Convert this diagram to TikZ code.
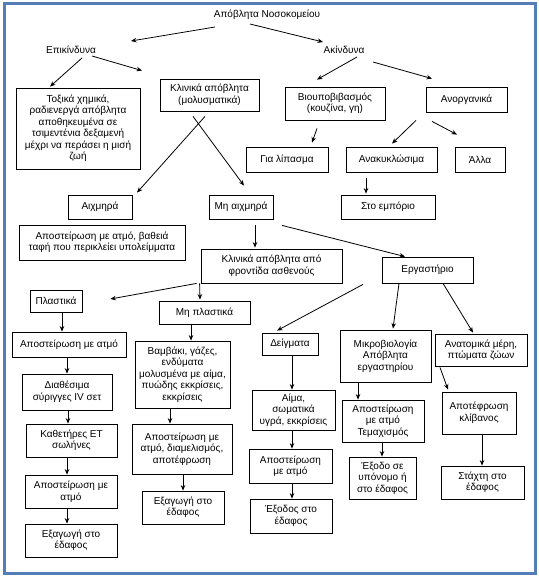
\documentclass[tikz,border=0pt]{standalone}
\usepackage{fontspec}
\setmainfont{Liberation Sans}
\usetikzlibrary{arrows.meta,calc}
\definecolor{frameblue}{RGB}{84,126,184}
\tikzset{
  bx/.style={draw=black, line width=0.8pt, inner sep=0pt, align=center,
    font=\fontsize{10}{11.5}\selectfont},
  lbl/.style={inner sep=1pt, font=\fontsize{10}{11.5}\selectfont},
  arr/.style={draw=black, line width=0.8pt, -{Stealth[length=5.5pt,width=4.5pt]}},
}
\newcommand{\bxat}[6]{\node[bx, minimum width=#4pt, minimum height=#5pt] (#1) at (#2,#3) {#6};}
\begin{document}
\begin{tikzpicture}[x=1pt,y=-1pt]
\useasboundingbox (0,0) rectangle (538,577);
\fill[white] (0,0) rectangle (538,577);
\draw[line width=3pt, frameblue] (4,3.5) rectangle (535,573.5);

% text labels
\node[lbl] (title) at (267,15) {Απόβλητα Νοσοκομείου};
\node[lbl] (epik) at (71,50) {Επικίνδυνα};
\node[lbl] (akin) at (344,50) {Ακίνδυνα};

% boxes
\bxat{tox}{78}{128.5}{124}{81}{Τοξικά χημικά,\\ραδιενεργά απόβλητα\\αποθηκευμένα σε\\τσιμεντένια δεξαμενή\\μέχρι να περάσει η μισή\\ζωή}
\bxat{klin}{209.5}{95}{99}{32}{Κλινικά απόβλητα\\(μολυσματικά)}
\bxat{bio}{335}{103.5}{100}{33}{Βιουποβιβασμός\\(κουζίνα, γη)}
\bxat{anorg}{466.5}{99.5}{81}{25}{Ανοργανικά}
\bxat{lipasma}{287}{159.5}{82}{25}{Για λίπασμα}
\bxat{anak}{391.5}{159.5}{91}{25}{Ανακυκλώσιμα}
\bxat{alla}{480}{159.5}{50}{25}{Άλλα}
\bxat{aixm}{100}{207}{64}{24}{Αιχμηρά}
\bxat{mhaixm}{241}{207}{64}{24}{Μη αιχμηρά}
\bxat{emporio}{388}{207}{94}{24}{Στο εμπόριο}
\bxat{apbath}{102}{242.5}{166}{35}{Αποστείρωση με ατμό, βαθειά\\ταφή που περικλείει υπολείμματα}
\bxat{fron}{271.5}{266}{141}{34}{Κλινικά απόβλητα από\\φροντίδα ασθενούς}
\bxat{erg}{427.5}{270}{91}{26}{Εργαστήριο}
\bxat{plast}{56}{301}{52}{22}{Πλαστικά}
\bxat{mhplast}{204.5}{312.5}{91}{23}{Μη πλαστικά}
\bxat{apone}{69}{344.5}{114}{25}{Αποστείρωση με ατμό}
\bxat{diath}{67}{392}{90}{36}{Διαθέσιμα\\σύριγγες IV σετ}
\bxat{kath}{71.5}{440.5}{91}{33}{Καθετήρες ΕΤ\\σωλήνες}
\bxat{aptwo}{71}{491.5}{92}{33}{Αποστείρωση με\\ατμό}
\bxat{exagone}{71}{540.5}{92}{33}{Εξαγωγή στο\\έδαφος}
\bxat{vamv}{182.5}{374.5}{95}{67}{Βαμβάκι, γάζες,\\ενδύματα\\μολυσμένα με αίμα,\\πυώδης εκκρίσεις,\\εκκρίσεις}
\bxat{apdiam}{182}{449}{100}{50}{Αποστείρωση με\\ατμό, διαμελισμός,\\αποτέφρωση}
\bxat{exagtwo}{183}{507.5}{82}{33}{Εξαγωγή στο\\έδαφος}
\bxat{deig}{290}{344}{56}{22}{Δείγματα}
\bxat{aima}{293.5}{410}{83}{40}{Αίμα,\\σωματικά\\υγρά, εκκρίσεις}
\bxat{apthree}{290.5}{466}{83}{34}{Αποστείρωση\\με ατμό}
\bxat{exodos}{291}{516}{82}{34}{Έξοδος στο\\έδαφος}
\bxat{mikro}{385.5}{356}{91}{52}{Μικροβιολογία\\Απόβλητα\\εργαστηρίου}
\bxat{aptem}{383}{421}{82}{42}{Αποστείρωση\\με ατμό\\Τεμαχισμός}
\bxat{exodo}{382.5}{478}{67}{42}{Έξοδο σε\\υπόνομο ή\\στο έδαφος}
\bxat{anat}{481}{350}{92}{32}{Ανατομικά μέρη,\\πτώματα ζώων}
\bxat{apotef}{479}{413}{74}{42}{Αποτέφρωση\\κλίβανος}
\bxat{staxti}{482.5}{482.5}{83}{33}{Στάχτη στο\\έδαφος}

% connectors
\draw[arr] ($(title.center)+(-52,12)$) -- ($(epik.center)+(60,-9)$);
\draw[arr] ($(title.center)+(-17,9)$) -- ($(akin.center)+(-21,-8)$);
\draw[arr] ($(epik.center)+(11,8)$) -- ($(tox.north)+(-28,-1)$);
\draw[arr] ($(epik.center)+(21,6)$) -- ($(klin.north)+(-67.5,-8)$);
\draw[arr] ($(akin.center)+(13,7)$) -- ($(bio.north)+(-18,-7)$);
\draw[arr] ($(akin.center)+(29,12)$) -- ($(anorg.north)+(-34.5,-8)$);
\draw[arr] ($(bio.south)+(-18,8)$) -- ($(lipasma.north)+(25,-4)$);
\draw[arr] ($(anorg.south)+(-50.5,8)$) -- ($(anak.north)+(0.5,-3)$);
\draw[arr] ($(anorg.south)+(-34.5,9)$) -- ($(alla.north)+(-23,-12)$);
\draw[arr] ($(anak.south)+(-25.5,6)$) -- ($(emporio.north)+(-22,-1)$);
\draw[arr] ($(klin.south)+(-4.5,5)$) -- ($(aixm.north)+(37,-2)$);
\draw[arr] ($(klin.south)+(-16.5,5)$) -- ($(mhaixm.north)+(3,-9)$);
\draw[arr] ($(mhaixm.south)+(14,6)$) -- ($(fron.north)+(-16.5,-1)$);
\draw[arr] ($(mhaixm.south)+(41,6)$) -- ($(erg.north)+(-22.5,0)$);
\draw[arr] ($(fron.south west)+(-4,0)$) -- ($(plast.east)+(28,-2)$);
\draw[arr] ($(fron.south west)+(-1,0)$) -- ($(mhplast.north)+(-4.5,-1)$);
\draw[arr] ($(erg.south)+(-64.5,1)$) -- ($(deig.north)+(-13,-2)$);
\draw[arr] ($(erg.south)+(-28.5,0)$) -- ($(mikro.north)+(7.5,-1)$);
\draw[arr] ($(erg.south)+(15.5,0)$) -- ($(anat.north)+(-8,-1)$);
\draw[arr] ($(plast.south)+(6,0)$) -- ($(apone.north)+(-7,0)$);
\draw[arr] ($(apone.south)+(-2,0)$) -- ($(diath.north)+(0,0)$);
\draw[arr] ($(diath.south)+(1,0)$) -- ($(kath.north)+(-3.5,0)$);
\draw[arr] ($(kath.south)+(-4.5,0)$) -- ($(aptwo.north)+(-4,0)$);
\draw[arr] ($(aptwo.south)+(-4,0)$) -- ($(exagone.north)+(-4,0)$);
\draw[arr] ($(mhplast.south)+(-13.5,0)$) -- ($(vamv.north)+(8.5,0)$);
\draw[arr] ($(vamv.south)+(-12.5,0)$) -- ($(apdiam.north)+(-12,0)$);
\draw[arr] ($(apdiam.south)+(1,0)$) -- ($(exagtwo.north)+(0,0)$);
\draw[arr] ($(deig.south)+(2,0)$) -- ($(aima.north)+(-1.5,0)$);
\draw[arr] ($(aima.south)+(-1.5,0)$) -- ($(apthree.north)+(1.5,0)$);
\draw[arr] ($(apthree.south)+(1.5,0)$) -- ($(exodos.north)+(1,0)$);
\draw[arr] ($(mikro.south)+(-27.5,0)$) -- ($(aptem.north)+(-25,0)$);
\draw[arr] ($(aptem.south)+(-1,0)$) -- ($(exodo.north)+(-0.5,0)$);
\draw[arr] ($(anat.south)+(-41,1)$) -- ($(apotef.north)+(-31,-2)$);
\draw[arr] ($(apotef.south)+(3,0)$) -- ($(staxti.north)+(-0.5,0)$);
\end{tikzpicture}
\end{document}
